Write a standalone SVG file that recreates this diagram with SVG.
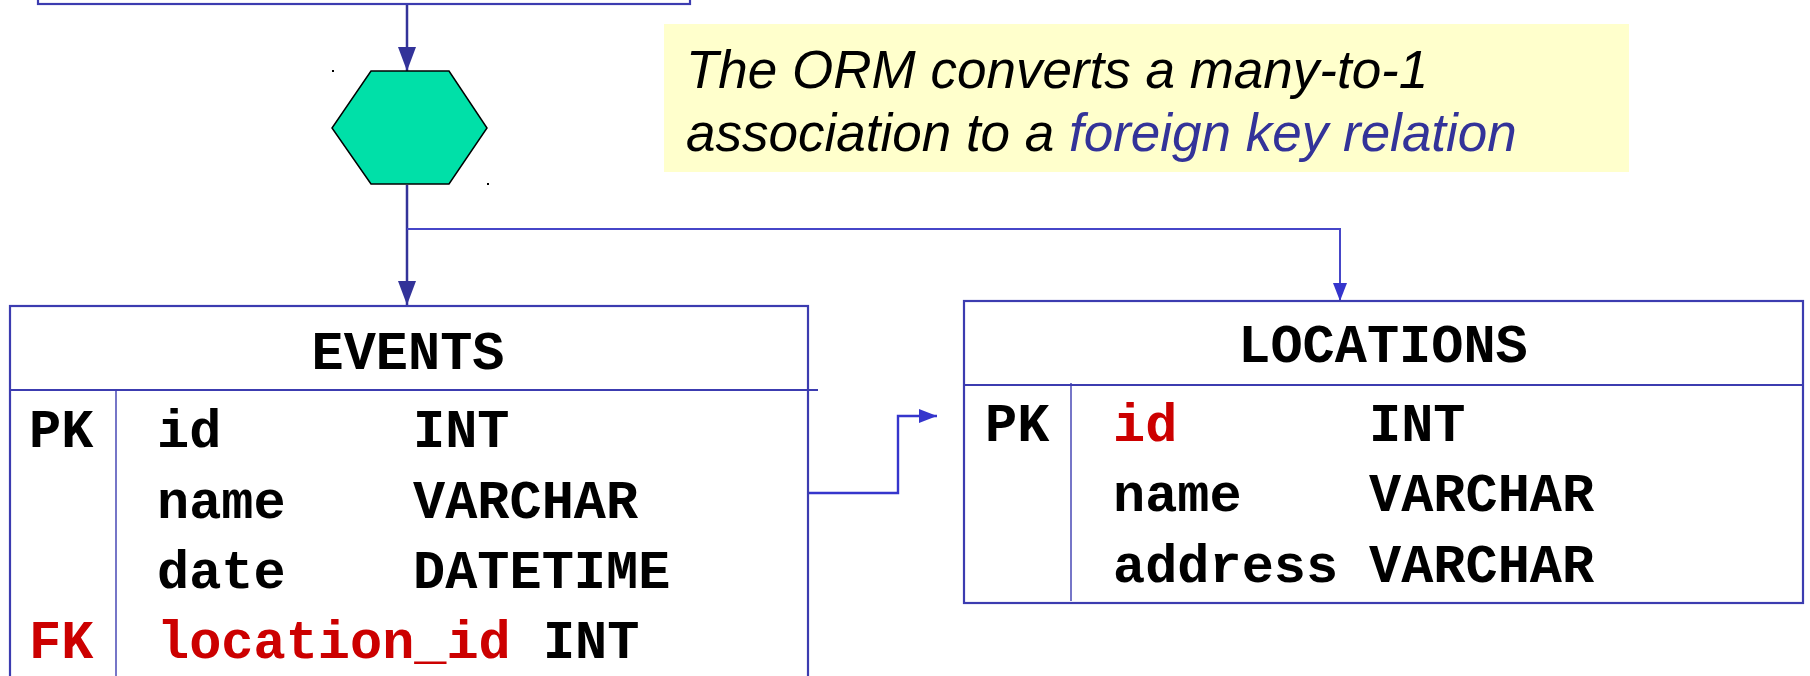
<svg xmlns="http://www.w3.org/2000/svg" width="1810" height="676" viewBox="0 0 1810 676">
  <style>
    .box { fill: #ffffff; stroke: #3c3cb0; stroke-width: 2.2; }
    .rule { stroke: #3c3cb0; stroke-width: 2; fill: none; }
    .thin { stroke: #3c3cb0; stroke-width: 1.4; fill: none; }
    .mono { font-family: "Liberation Mono", "Courier New", monospace; font-weight: bold; font-size: 53.6px; fill: #000000; }
    .red { fill: #cc0000; }
    .note { font-family: "Liberation Sans", Arial, sans-serif; font-style: italic; font-size: 53px; fill: #000000; }
    .hl { fill: #333399; }
    .flow { stroke: #333399; stroke-width: 2.5; fill: none; }
    .branch { stroke: #4646c8; stroke-width: 2; fill: none; }
  </style>
  <defs>
    <marker id="headDark" markerUnits="userSpaceOnUse" markerWidth="24" markerHeight="18" refX="24" refY="9" orient="auto">
      <path d="M0,0 L24,9 L0,18 Z" fill="#333399"/>
    </marker>
    <marker id="headBlue" markerUnits="userSpaceOnUse" markerWidth="18" markerHeight="14" refX="18" refY="7" orient="auto">
      <path d="M0,0 L18,7 L0,14 Z" fill="#3535cc"/>
    </marker>
  </defs>

  <rect width="1810" height="676" fill="#ffffff"/>

  <!-- connectors -->
  <g id="connectors">
    <line class="flow" x1="407" y1="5" x2="407" y2="71" marker-end="url(#headDark)"/>
    <line class="flow" x1="407" y1="185" x2="407" y2="305" marker-end="url(#headDark)"/>
    <polyline class="branch" points="407,229 1340,229 1340,301" marker-end="url(#headBlue)"/>
    <polyline class="branch" style="stroke:#3535cc;stroke-width:2.4" points="808,493 898,493 898,416 937,416" marker-end="url(#headBlue)"/>
  </g>

  <!-- source entity box, only its lower edge is in view -->
  <g id="source">
    <rect class="box" x="38" y="-30" width="652" height="34"/>
  </g>

  <!-- mapping step -->
  <g id="orm">
    <polygon points="371,71 449,71 487,128 449,184 371,184 332,128" fill="#00e0a8" stroke="#000000" stroke-width="1.5"/>
    <rect x="332" y="70" width="2" height="2" fill="#000000"/>
    <rect x="487" y="183" width="2" height="2" fill="#000000"/>
  </g>

  <!-- explanation note -->
  <g id="note">
    <rect x="664" y="24" width="965" height="148" fill="#ffffcc"/>
    <text class="note" x="686" y="88">The ORM converts a many-to-1</text>
    <text class="note" x="686" y="151">association to a <tspan class="hl">foreign key relation</tspan></text>
  </g>

  <!-- EVENTS table -->
  <g id="events">
    <rect class="box" x="10" y="306" width="798" height="400"/>
    <line class="rule" x1="10" y1="390" x2="818" y2="390"/>
    <line class="thin" x1="116" y1="389" x2="116" y2="676"/>
    <text class="mono" x="408" y="369" text-anchor="middle">EVENTS</text>
    <text class="mono" x="29" y="447">PK</text>
    <text class="mono" x="157" y="447">id</text>
    <text class="mono" x="413" y="447">INT</text>
    <text class="mono" x="157" y="518">name</text>
    <text class="mono" x="413" y="518">VARCHAR</text>
    <text class="mono" x="157" y="588">date</text>
    <text class="mono" x="413" y="588">DATETIME</text>
    <text class="mono red" x="29" y="658">FK</text>
    <text class="mono" x="157" y="658"><tspan class="red">location_id</tspan> INT</text>
  </g>

  <!-- LOCATIONS table -->
  <g id="locations">
    <rect class="box" x="964" y="301" width="839" height="302"/>
    <line class="rule" x1="964" y1="385" x2="1803" y2="385"/>
    <line class="thin" x1="1071" y1="383" x2="1071" y2="601"/>
    <text class="mono" x="1383" y="362" text-anchor="middle">LOCATIONS</text>
    <text class="mono" x="985" y="441">PK</text>
    <text class="mono red" x="1113" y="441">id</text>
    <text class="mono" x="1369" y="441">INT</text>
    <text class="mono" x="1113" y="511">name</text>
    <text class="mono" x="1369" y="511">VARCHAR</text>
    <text class="mono" x="1113" y="582">address</text>
    <text class="mono" x="1369" y="582">VARCHAR</text>
  </g>
</svg>
